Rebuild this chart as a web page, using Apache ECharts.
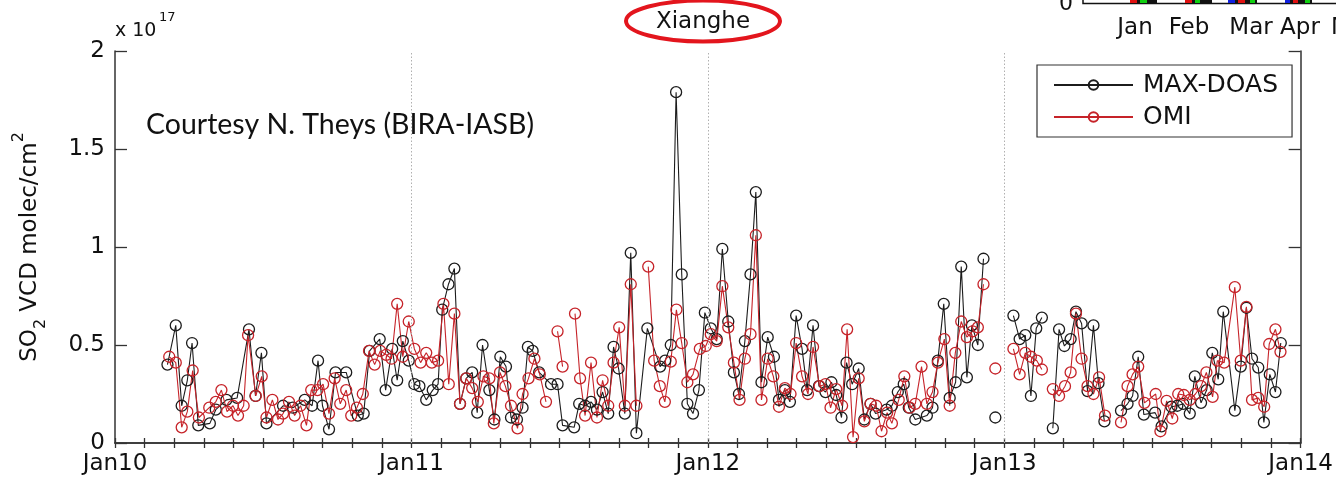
<!DOCTYPE html>
<html>
<head>
<meta charset="utf-8">
<script src="https://cdn.jsdelivr.net/npm/echarts@6/dist/echarts.min.js"></script>
<style>
  html, body { margin: 0; padding: 0; background: #fff; }
  #chart { width: 1336px; height: 482px; }
</style>
</head>
<body>
<div id="chart"></div>
<script>
// Xianghe SO2 vertical column densities (units of 1e17 molec/cm2), time in decimal years.
// null marks a missing observation, which breaks the line.
const maxdoasTime = [
  2010.177,2010.205,2010.225,2010.244,2010.260,2010.281,2010.320,2010.340,2010.376,2010.412,
  2010.452,2010.474,2010.494,2010.511,2010.567,2010.600,2010.640,2010.665,2010.685,2010.700,
  2010.722,2010.744,2010.780,2010.819,2010.839,2010.859,2010.893,2010.913,2010.935,2010.952,
  2010.971,2010.991,
  2011.010,2011.027,2011.050,2011.072,2011.090,2011.104,2011.125,2011.145,2011.164,2011.185,
  2011.205,2011.222,2011.240,2011.263,2011.280,2011.300,2011.319,2011.336,2011.356,2011.375,
  2011.393,2011.409,2011.431,2011.471,2011.493,2011.510,2011.549,2011.566,2011.586,2011.606,
  2011.626,2011.645,2011.664,2011.682,2011.699,2011.720,2011.740,2011.759,2011.796,2011.839,
  2011.856,2011.875,2011.893,2011.912,2011.931,2011.950,2011.970,2011.990,
  2012.010,2012.030,2012.049,2012.069,2012.088,2012.105,2012.125,2012.144,2012.162,2012.181,
  2012.202,2012.223,2012.240,2012.260,2012.277,2012.298,2012.318,2012.335,2012.355,2012.375,
  2012.397,2012.417,2012.433,2012.451,2012.468,2012.487,2012.509,2012.528,2012.549,2012.566,
  2012.603,2012.621,2012.641,2012.661,2012.678,2012.700,2012.739,2012.758,2012.776,2012.796,
  2012.816,2012.836,2012.855,2012.874,2012.891,2012.911,2012.930,2012.950,2012.970,2012.988,
  2013.031,2013.052,2013.071,2013.090,2013.108,2013.127,2013.145,2013.164,2013.185,2013.203,
  2013.224,2013.242,2013.261,2013.281,2013.301,2013.318,2013.338,2013.366,2013.394,2013.416,
  2013.433,2013.452,2013.471,2013.509,2013.531,2013.564,2013.584,2013.604,2013.626,2013.643,
  2013.664,2013.683,2013.702,2013.722,2013.739,2013.778,2013.798,2013.817,2013.836,2013.857,
  2013.876,2013.896,2013.915,2013.933
];
const maxdoasVCD = [
  0.40,0.60,0.19,0.32,0.51,0.09,0.10,0.17,0.22,0.23,
  0.58,0.24,0.46,0.10,0.19,0.18,0.22,0.19,0.42,0.19,
  0.07,0.36,0.36,0.14,0.15,0.47,0.53,0.27,0.48,0.32,
  0.52,0.42,
  0.30,0.29,0.22,0.27,0.30,0.68,0.81,0.89,0.20,0.33,
  0.36,0.155,0.50,0.27,0.12,0.44,0.39,0.13,0.12,0.18,
  0.49,0.47,0.36,0.30,0.30,0.09,0.08,0.20,0.19,0.21,
  0.17,0.26,0.15,0.49,0.38,0.15,0.97,0.05,0.585,0.39,
  0.42,0.50,1.79,0.86,0.20,0.15,0.27,0.665,
  0.585,0.53,0.99,0.62,0.36,0.25,0.52,0.86,1.28,0.31,
  0.54,0.44,0.22,0.27,0.21,0.65,0.48,0.27,0.60,0.29,
  0.26,0.31,0.245,0.13,0.41,0.30,0.38,0.12,0.20,0.15,
  0.17,0.19,0.26,0.30,0.18,0.12,0.14,0.18,0.42,0.71,
  0.23,0.31,0.90,0.335,0.60,0.50,0.94,null,0.13,null,
  0.65,0.53,0.55,0.24,0.585,0.64,null,0.075,0.58,0.495,
  0.53,0.67,0.61,0.265,0.60,0.305,0.11,null,0.165,0.20,
  0.24,0.44,0.145,0.155,0.085,0.185,0.19,0.20,0.15,0.34,
  0.205,0.27,0.46,0.325,0.67,0.165,0.39,0.69,0.43,0.385,
  0.105,0.35,0.26,0.51
];
const omiTime = [
  2010.183,2010.205,2010.225,2010.244,2010.262,2010.283,2010.318,2010.340,2010.359,2010.378,
  2010.398,2010.415,2010.434,2010.449,2010.475,2010.495,2010.511,2010.531,2010.550,2010.567,
  2010.587,2010.606,2010.626,2010.646,2010.662,2010.683,2010.702,2010.722,2010.741,2010.760,
  2010.780,2010.797,2010.816,2010.836,2010.857,2010.876,2010.895,2010.915,2010.933,2010.952,
  2010.971,2010.991,
  2011.010,2011.031,2011.050,2011.069,2011.090,2011.108,2011.126,2011.145,2011.164,2011.185,
  2011.205,2011.224,2011.243,2011.263,2011.278,2011.299,2011.317,2011.336,2011.358,2011.375,
  2011.395,2011.415,2011.433,2011.454,2011.474,2011.493,2011.510,2011.531,2011.552,2011.569,
  2011.586,2011.606,2011.626,2011.645,2011.664,2011.682,2011.701,2011.720,2011.740,2011.759,
  2011.779,2011.799,2011.819,2011.838,2011.855,2011.875,2011.894,2011.912,2011.931,2011.950,
  2011.973,2011.993,
  2012.010,2012.030,2012.049,2012.069,2012.088,2012.107,2012.125,2012.144,2012.162,2012.181,
  2012.202,2012.221,2012.240,2012.260,2012.279,2012.298,2012.318,2012.338,2012.355,2012.377,
  2012.397,2012.414,2012.433,2012.453,2012.470,2012.490,2012.509,2012.528,2012.549,2012.568,
  2012.586,2012.605,2012.621,2012.644,2012.663,2012.681,2012.700,2012.721,2012.739,2012.758,
  2012.776,2012.798,2012.816,2012.835,2012.855,2012.874,2012.893,2012.911,2012.930,2012.950,
  2012.970,2012.988,
  2013.031,2013.052,2013.071,2013.090,2013.110,2013.127,2013.145,2013.164,2013.185,2013.205,
  2013.224,2013.242,2013.261,2013.281,2013.301,2013.320,2013.340,2013.366,2013.394,2013.416,
  2013.433,2013.452,2013.473,2013.511,2013.527,2013.548,2013.567,2013.587,2013.606,2013.626,
  2013.645,2013.664,2013.682,2013.703,2013.719,2013.742,2013.778,2013.798,2013.817,2013.836,
  2013.857,2013.877,2013.894,2013.915,2013.932
];
const omiVCD = [
  0.44,0.41,0.08,0.16,0.37,0.13,0.18,0.21,0.27,0.16,
  0.19,0.14,0.19,0.55,0.24,0.34,0.13,0.22,0.12,0.15,
  0.21,0.14,0.19,0.09,0.27,0.27,0.30,0.15,0.33,0.20,
  0.27,0.14,0.18,0.25,0.47,0.40,0.47,0.45,0.43,0.71,
  0.44,0.62,
  0.48,0.41,0.46,0.41,0.42,0.71,0.30,0.66,0.20,0.33,
  0.28,0.21,0.34,0.33,0.10,0.36,0.29,0.19,0.075,0.25,
  0.33,0.43,0.35,0.21,null,0.57,0.39,null,0.66,0.33,
  0.14,0.41,0.13,0.32,0.19,0.41,0.59,0.19,0.81,0.19,
  null,0.90,0.42,0.29,0.21,0.415,0.68,0.51,0.31,0.35,
  0.48,0.495,
  0.555,0.52,0.80,0.59,0.41,0.22,0.43,0.555,1.06,0.22,
  0.43,0.34,0.185,0.28,0.25,0.51,0.34,0.25,0.49,0.29,
  0.30,0.18,0.275,0.19,0.58,0.03,0.33,0.11,0.20,0.19,
  0.06,0.155,0.10,0.22,0.34,0.18,0.20,0.39,0.20,0.26,
  0.41,0.53,0.19,0.46,0.62,0.54,0.57,0.59,0.81,null,
  0.38,null,
  0.48,0.35,0.46,0.44,0.42,0.375,null,0.275,0.24,0.29,
  0.36,0.66,0.43,0.29,0.25,0.335,0.14,null,0.105,0.29,
  0.35,0.39,0.205,0.25,0.06,0.215,0.125,0.25,0.245,0.22,
  0.25,0.29,0.36,0.235,0.42,0.41,0.795,0.42,0.695,0.22,
  0.23,0.185,0.505,0.58,0.465
];

const xTickLabels = ['Jan10', 'Jan11', 'Jan12', 'Jan13', 'Jan14'];
const yearLines = [2011, 2012, 2013];
const yTicks = [0, 0.5, 1, 1.5, 2];
const seriesNames = ['MAX-DOAS', 'OMI'];
// Month labels of the neighbouring panel that peeks in at the top right
const insetMonths = ['Jan', 'Feb', 'Mar', 'Apr', 'M'];

const FONT = '"DejaVu Sans", sans-serif';
const AXIS_COLOR = '#333';
const BLACK = '#1c1c1c';
const RED = '#c62329';

function pairs(times, values) {
  return times.map((t, i) => [t, values[i] === null ? '-' : values[i]]);
}

function isWholeYear(v) {
  return Math.abs(v - Math.round(v)) < 1e-6;
}

const chart = echarts.init(document.getElementById('chart'), null, { renderer: 'canvas' });

// ticks every tenth of a year, labels only at the start of each year
const baseX = {
  type: 'value', min: 2010, max: 2014, interval: 0.1,
  axisLine: { show: true, lineStyle: { color: AXIS_COLOR, width: 1.5 } },
  axisTick: { show: true, inside: true, length: 5, interval: 0, lineStyle: { color: AXIS_COLOR, width: 1.3 } },
  splitLine: { show: false }
};
const baseY = {
  type: 'value', min: 0, max: 2, interval: 0.5,
  axisLine: { show: true, lineStyle: { color: AXIS_COLOR, width: 1.5 } },
  axisTick: { show: true, inside: true, length: 12, lineStyle: { color: AXIS_COLOR, width: 1.3 } },
  splitLine: { show: false }
};

function lineSeries(name, times, values, color) {
  return {
    name: name,
    type: 'line',
    xAxisIndex: 0, yAxisIndex: 0,
    data: pairs(times, values),
    connectNulls: false,
    showSymbol: true,
    showAllSymbol: true,
    symbol: 'circle',
    symbolSize: 11,
    lineStyle: { color: color, width: 1.1 },
    itemStyle: { color: 'rgba(255,255,255,0)', borderColor: color, borderWidth: 1.3 },
    emphasis: { disabled: true },
    animation: false
  };
}

const doasSeries = lineSeries(seriesNames[0], maxdoasTime, maxdoasVCD, BLACK);
// dotted year boundaries
doasSeries.markLine = {
  silent: true, symbol: ['none', 'none'], animation: false,
  label: { show: false },
  lineStyle: { color: '#b0b0b0', type: [1.5, 2], width: 1 },
  data: yearLines.map(y => ({ xAxis: y }))
};

const option = {
  backgroundColor: '#fff',
  animation: false,
  grid: { left: 115, right: 33, top: 51, bottom: 39, containLabel: false },
  xAxis: [
    Object.assign({}, baseX, {
      position: 'bottom',
      axisLabel: {
        show: true, interval: 0, hideOverlap: false, margin: 10, color: '#111', fontFamily: FONT, fontSize: 23,
        formatter: v => (isWholeYear(v) ? (xTickLabels[Math.round(v) - 2010] || '') : '')
      }
    }),
    Object.assign({}, baseX, { position: 'top', axisLabel: { show: false, interval: 0 } })
  ],
  yAxis: [
    Object.assign({}, baseY, {
      position: 'left',
      axisLabel: {
        show: true, margin: 10, color: '#111', fontFamily: FONT, fontSize: 23,
        formatter: v => (yTicks.indexOf(v) >= 0 ? String(v) : '')
      }
    }),
    Object.assign({}, baseY, { position: 'right', axisLabel: { show: false } })
  ],
  legend: {
    show: true,
    orient: 'vertical',
    left: 1037, top: 65,
    padding: [7, 14, 7, 16],
    itemGap: 6,
    itemWidth: 79, itemHeight: 12,
    borderColor: '#333', borderWidth: 1.2,
    backgroundColor: '#fff',
    selectedMode: false,
    data: seriesNames,
    textStyle: { fontFamily: FONT, fontSize: 25, lineHeight: 26, color: '#111', padding: [0, 0, 0, 5] }
  },
  series: [
    doasSeries,
    lineSeries(seriesNames[1], omiTime, omiVCD, RED)
  ],
  graphic: []
};

// Annotations around the plot box
const g = [];
// white box behind the courtesy note hides the upper part of the Jan11 grid line
g.push({ type: 'rect', shape: { x: 402, y: 56, width: 20, height: 95 }, style: { fill: '#fff' }, z: 5 });
g.push({
  type: 'text', x: 146, y: 125, z: 6,
  style: { text: 'Courtesy N. Theys (BIRA-IASB)', font: '28.5px Lato, "Open Sans", sans-serif', fill: '#111', verticalAlign: 'middle' }
});
// station title with highlighting ellipse
g.push({ type: 'text', x: 703, y: 22, z: 6,
  style: { text: 'Xianghe', font: '23px ' + FONT, fill: '#111', align: 'center', verticalAlign: 'middle' } });
g.push({ type: 'ellipse', shape: { cx: 703, cy: 21, rx: 77, ry: 20.5 }, z: 6,
  style: { fill: 'none', stroke: '#e3151d', lineWidth: 4 } });
// exponent of the value axis
g.push({ type: 'text', x: 115, y: 31, z: 6,
  style: { text: 'x 10', font: '19px ' + FONT, fill: '#111', verticalAlign: 'middle' } });
g.push({ type: 'text', x: 159, y: 18, z: 6,
  style: { text: '17', font: '13px ' + FONT, fill: '#111', verticalAlign: 'middle' } });
// y-axis title with sub- and superscript
g.push({
  type: 'text', x: 30, y: 247, rotation: Math.PI / 2, z: 6,
  style: {
    text: '{m|SO}{s|2}{m| VCD molec/cm}{p|2}',
    align: 'center', verticalAlign: 'middle',
    rich: {
      m: { fontFamily: FONT, fontSize: 23, fill: '#111', lineHeight: 38, verticalAlign: 'middle' },
      s: { fontFamily: FONT, fontSize: 16, fill: '#111', lineHeight: 38, verticalAlign: 'bottom' },
      p: { fontFamily: FONT, fontSize: 16, fill: '#111', lineHeight: 38, verticalAlign: 'top' }
    }
  }
});

// neighbouring panel edge at the top right: zero label, frame, coloured bars and months
g.push({ type: 'text', x: 1066, y: 4, z: 6,
  style: { text: '0', font: '22px ' + FONT, fill: '#111', align: 'center', verticalAlign: 'middle' } });
g.push({ type: 'rect', shape: { x: 1083, y: -4, width: 270, height: 7.5 }, z: 6,
  style: { fill: '#fff', stroke: '#111', lineWidth: 1.5 } });
const insetBars = [
  [1130, 1137, '#e01010'], [1137, 1140, '#111'], [1140, 1147, '#10d010'], [1147, 1157, '#111'],
  [1185, 1192, '#e01010'], [1192, 1195, '#111'], [1195, 1200, '#10d010'], [1200, 1212, '#111'],
  [1228, 1235, '#1020e0'], [1235, 1238, '#111'], [1238, 1245, '#e01010'], [1245, 1250, '#111'],
  [1250, 1255, '#10d010'], [1255, 1257, '#111'],
  [1285, 1290, '#1020e0'], [1290, 1293, '#111'], [1293, 1298, '#e01010'], [1298, 1305, '#111'],
  [1305, 1310, '#10d010'], [1310, 1312, '#111']
];
insetBars.forEach(b => g.push({ type: 'rect', shape: { x: b[0], y: 0, width: b[1] - b[0], height: 3 }, z: 7, style: { fill: b[2] } }));
const insetMonthX = [1135, 1189, 1251, 1300, 1331];
insetMonths.forEach((m, i) => g.push({ type: 'text', x: insetMonthX[i], y: 28, z: 6,
  style: { text: m, font: '23px ' + FONT, fill: '#111', align: i === 4 ? 'left' : 'center', verticalAlign: 'middle' } }));

option.graphic = g;
chart.setOption(option);
</script>
</body>
</html>
